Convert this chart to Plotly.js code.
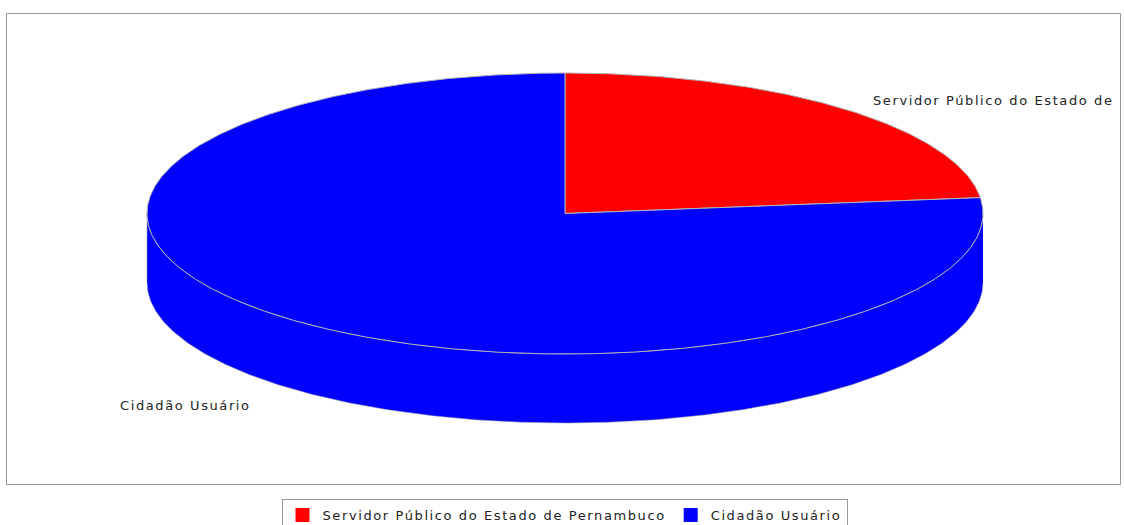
<!DOCTYPE html>
<html><head><meta charset="utf-8">
<script src="https://cdn.plot.ly/plotly-3.0.1.min.js"></script>
<style>
html,body{margin:0;padding:0;background:#fff}
#chart{width:1124px;height:525px}
svg text{letter-spacing:1.6px}
</style>
</head><body><div id="chart"></div>
<script>
// ---- data ----
const categories = ['Servidor Público do Estado de Pernambuco', 'Cidadão Usuário'];
const values = [23.2, 76.8];
const colors = ['#FF0000', '#0000FF'];
const labelTexts = ['Servidor Público do Estado de', 'Cidadão Usuário'];

// ---- layout geometry (pixels) ----
const CX = 565, CY = 213.5, RX = 418, RY = 140.5, DEPTH = 69, START = 90;
const total = values.reduce((a, b) => a + b, 0);

function pt(deg, dy) {
  const r = deg * Math.PI / 180;
  return [CX + RX * Math.cos(r), CY - RY * Math.sin(r) + (dy || 0)];
}
function arc(a0, a1, dy) {
  const n = Math.max(2, Math.ceil(Math.abs(a1 - a0) / 0.5));
  const xs = [], ys = [];
  for (let i = 0; i <= n; i++) {
    const p = pt(a0 + (a1 - a0) * i / n, dy);
    xs.push(p[0]); ys.push(p[1]);
  }
  return [xs, ys];
}

let acc = START;
const slices = values.map((v, i) => {
  const sweep = v / total * 360;
  const s = { i: i, a0: acc, a1: acc - sweep };
  acc -= sweep;
  return s;
});

const traces = [];
// side walls (front half of the ellipse)
slices.forEach(s => {
  [[-180, 0], [-540, -360], [180, 360]].forEach(([lo, hi]) => {
    const from = Math.min(s.a0, hi), to = Math.max(s.a1, lo);
    if (from > to) {
      const t = arc(from, to, 0), b = arc(to, from, DEPTH);
      traces.push({
        type: 'scatter', mode: 'lines', fill: 'toself',
        x: t[0].concat(b[0]), y: t[1].concat(b[1]),
        fillcolor: colors[s.i], line: { color: '#9a9a9a', width: 0.5 },
        showlegend: false, hoverinfo: 'skip'
      });
    }
  });
});
// top faces
slices.forEach(s => {
  const t = arc(s.a0, s.a1, 0);
  traces.push({
    type: 'scatter', mode: 'lines', fill: 'toself',
    x: [CX].concat(t[0], [CX]), y: [CY].concat(t[1], [CY]),
    fillcolor: colors[s.i], line: { color: '#b4b4b4', width: 1 },
    showlegend: false, hoverinfo: 'skip'
  });
});
// legend entries
categories.forEach((c, i) => {
  traces.push({
    type: 'scatter', mode: 'markers', x: [null], y: [null], name: c,
    marker: { symbol: 'square', size: 14, color: colors[i] },
    showlegend: true, hoverinfo: 'skip'
  });
});

const font = { family: 'DejaVu Sans', size: 13, color: '#222' };
const layout = {
  width: 1124, height: 525,
  margin: { l: 0, r: 0, t: 0, b: 0, pad: 0, autoexpand: false },
  paper_bgcolor: '#ffffff', plot_bgcolor: '#ffffff',
  hovermode: false,
  xaxis: { range: [0, 1124], visible: false, fixedrange: true },
  yaxis: { range: [525, 0], visible: false, fixedrange: true },
  showlegend: true,
  legend: {
    orientation: 'h', x: 564.5 / 1124, xanchor: 'center', y: 1 - 499 / 525, yanchor: 'top',
    bordercolor: '#999999', borderwidth: 1, bgcolor: '#ffffff',
    font: font, itemwidth: 30, traceorder: 'normal'
  },
  shapes: [{
    type: 'rect', xref: 'x', yref: 'y', x0: 6.5, y0: 13.5, x1: 1120.5, y1: 484.5,
    line: { color: '#999999', width: 1 }, layer: 'below'
  }],
  annotations: [
    { xref: 'x', yref: 'y', x: 871, y: 100, text: labelTexts[0], showarrow: false,
      xanchor: 'left', yanchor: 'middle', font: font },
    { xref: 'x', yref: 'y', x: 118, y: 405, text: labelTexts[1], showarrow: false,
      xanchor: 'left', yanchor: 'middle', font: font }
  ]
};
Plotly.newPlot('chart', traces, layout, { displayModeBar: false, staticPlot: true });
</script>
</body></html>
